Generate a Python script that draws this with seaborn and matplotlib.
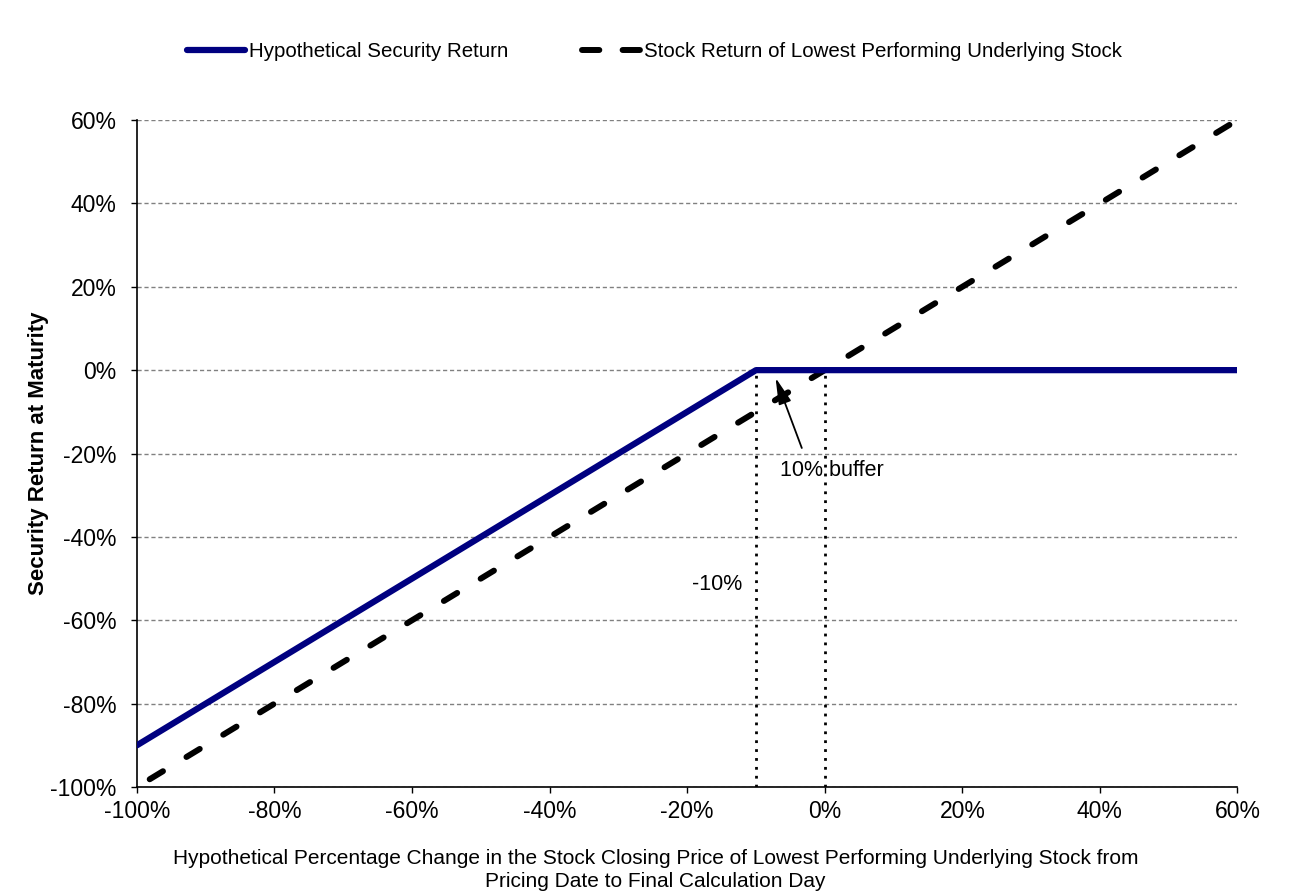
import matplotlib
matplotlib.use("Agg")
import matplotlib.pyplot as plt
import seaborn as sns
import pandas as pd

# ==============================================================================
# DADOS DO GRÁFICO
# ==============================================================================
variacao_acao = [-100, -10, 0, 60]          # % change of lowest performing stock
retorno_titulo = [-90, 0, 0, 0]             # hypothetical security return
retorno_acao = [-100, -10, 0, 60]           # stock return (same as change)
ticks_x = [-100, -80, -60, -40, -20, 0, 20, 40, 60]
ticks_y = [-100, -80, -60, -40, -20, 0, 20, 40, 60]
linhas_buffer = [-10, 0]

rotulo_titulo = "Hypothetical Security Return"
rotulo_acao = "Stock Return of Lowest Performing Underlying Stock"

df = pd.DataFrame({"x": variacao_acao, "titulo": retorno_titulo, "acao": retorno_acao})

# ==============================================================================
# ESTILO
# ==============================================================================
sns.set_style("white")
plt.rcParams["font.family"] = ["Liberation Sans", "DejaVu Sans"]
plt.rcParams.update({
    "text.color": "black",
    "axes.labelcolor": "black",
    "xtick.color": "black",
    "ytick.color": "black",
})

fig = plt.figure(figsize=(13.04, 8.93), dpi=100)
ax = fig.add_axes([0.105, 0.1187, 0.844, 0.7469])

# grid horizontal
for v in ticks_y:
    ax.axhline(v, color="#808080", lw=1.0, ls=(0, (3, 2)), zorder=0)

# linhas verticais pontilhadas do buffer
for v in linhas_buffer:
    ax.plot([v, v], [-100, 0], color="black", lw=2, ls=(0, (1, 2.2)), zorder=1)

sns.lineplot(data=df, x="x", y="acao", ax=ax, color="black", lw=4.3,
             dashes=False, label=rotulo_acao, zorder=2)
ax.lines[-1].set_linestyle((4.7, (2.6, 4.6)))
ax.lines[-1].set_dash_capstyle("round")
sns.lineplot(data=df, x="x", y="titulo", ax=ax, color="#000080", lw=4.5,
             label=rotulo_titulo, zorder=3)

ax.set_xlim(-100, 60)
ax.set_ylim(-100, 60)
ax.set_xticks(ticks_x)
ax.set_yticks(ticks_y)
ax.set_xticklabels([f"{t}%" for t in ticks_x], fontsize=16.5)
ax.set_yticklabels([f"{t}%" for t in ticks_y], fontsize=16.5)
ax.tick_params(axis="both", direction="out", length=4.5, width=1, color="black",
               left=True, bottom=True)
ax.tick_params(axis="x", pad=4.5)
ax.tick_params(axis="y", pad=10)

for lado in ["top", "right"]:
    ax.spines[lado].set_visible(False)
for lado in ["left", "bottom"]:
    ax.spines[lado].set_color("black")
    ax.spines[lado].set_linewidth(1.2)

ax.set_xlabel("Hypothetical Percentage Change in the Stock Closing Price of Lowest Performing Underlying Stock from\n"
              "Pricing Date to Final Calculation Day", fontsize=15, labelpad=19, linespacing=1.3)
ax.xaxis.label.set_x(0.471)
ax.set_ylabel("Security Return at Maturity", fontsize=16, fontweight="bold", labelpad=1)

# anotações
ax.annotate("", xy=(-7.3, -1.2), xytext=(-3.2, -19.3),
            arrowprops=dict(arrowstyle="-|>,head_width=0.22,head_length=0.9",
                            color="black", lw=1.3, mutation_scale=18))
ax.text(1.0, -24, "10% buffer", fontsize=15.5, ha="center", va="center")
ax.text(-15.6, -51.5, "-10%", fontsize=15.5, ha="center", va="center")

# legenda
handles, labels = ax.get_legend_handles_labels()
ordem = [labels.index(rotulo_titulo), labels.index(rotulo_acao)]
leg = ax.legend([handles[i] for i in ordem], [labels[i] for i in ordem],
                loc="center", bbox_to_anchor=(0.502, 0.942), bbox_transform=fig.transFigure,
                ncol=2, frameon=False, fontsize=14.8, handlelength=2.8,
                handletextpad=0.2, columnspacing=3.6)
linha_leg = leg.get_lines()[1]
linha_leg.set_linestyle((0, (2.9, 3.9)))
linha_leg.set_dash_capstyle("round")

fig.savefig("out.png", dpi=100)
